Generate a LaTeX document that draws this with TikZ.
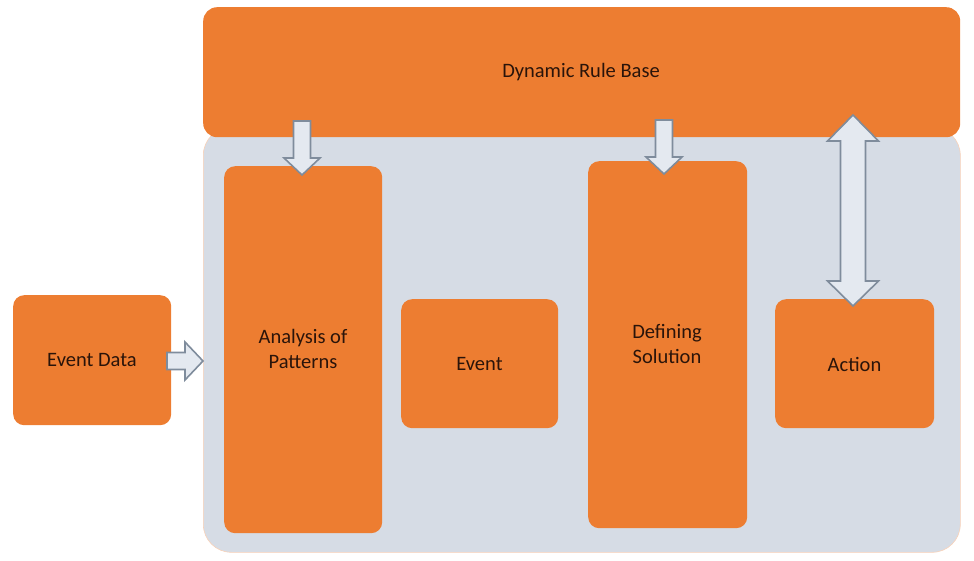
\documentclass[tikz,border=0pt]{standalone}
\usepackage{fontspec}
\setmainfont{Carlito}
\usetikzlibrary{calc}
\definecolor{orng}{HTML}{ED7D31}
\definecolor{panel}{HTML}{D6DCE5}
\definecolor{arrfill}{HTML}{E4E9F0}
\definecolor{arrline}{HTML}{7F8C9C}
\definecolor{txt}{HTML}{2A140A}
\tikzset{
  obox/.style={fill=orng, draw=none, rounded corners=11pt, inner sep=0pt, anchor=north west},
  lbl/.style={text=txt, font=\fontsize{20.5}{25}\selectfont, align=center, inner sep=0pt},
  blockarrow/.style={fill=arrfill, draw=arrline, line width=1.6pt, line join=miter}
}
\begin{document}
\begin{tikzpicture}[x=1pt,y=-1pt]
\useasboundingbox (0,0) rectangle (974,561);
% panel
\node[fill=panel, draw=orng!35, line width=0.6pt, rounded corners=28pt, minimum width=757pt, minimum height=425pt, inner sep=0pt, anchor=north west] (panel) at (203,127) {};
% top box
\node[obox, rounded corners=14pt, minimum width=757pt, minimum height=130pt] (rule) at (203,7) {};
\node[lbl] (rulelbl) at (581,72) {Dynamic Rule Base};
% inner boxes
\node[obox, minimum width=158pt, minimum height=367pt] (anal) at (224,166) {};
\node[lbl] (anallbl) at (303,349) {Analysis of\\Patterns};
\node[obox, minimum width=157pt, minimum height=129pt] (event) at (401,299) {};
\node[lbl] (eventlbl) at (479.5,364) {Event};
\node[obox, minimum width=159pt, minimum height=367pt] (defsol) at (588,161) {};
\node[lbl] (defsollbl) at (667,344) {Defining\\Solution};
\node[obox, minimum width=159pt, minimum height=129pt] (action) at (775,299) {};
\node[lbl] (actionlbl) at (854.5,364) {Action};
\node[obox, minimum width=158pt, minimum height=130pt] (evdata) at (13,295) {};
\node[lbl] (evdatalbl) at (92,360) {Event Data};
% arrows
\coordinate (a1) at (302,121);
\draw[blockarrow] ($(a1)+(-8.5,0)$) -- ($(a1)+(8.5,0)$) -- ($(a1)+(8.5,37)$) -- ($(a1)+(18,37)$) -- ($(a1)+(0,54)$) -- ($(a1)+(-18,37)$) -- ($(a1)+(-8.5,37)$) -- cycle;
\coordinate (a2) at (664,120);
\draw[blockarrow] ($(a2)+(-8.5,0)$) -- ($(a2)+(8.5,0)$) -- ($(a2)+(8.5,37)$) -- ($(a2)+(18,37)$) -- ($(a2)+(0,54)$) -- ($(a2)+(-18,37)$) -- ($(a2)+(-8.5,37)$) -- cycle;
\coordinate (a3) at (853,115);
\draw[blockarrow] (a3) -- ($(a3)+(25.5,26)$) -- ($(a3)+(12.5,26)$) -- ($(a3)+(12.5,166)$) -- ($(a3)+(25.5,166)$) -- ($(a3)+(0,191)$) -- ($(a3)+(-25.5,166)$) -- ($(a3)+(-12.5,166)$) -- ($(a3)+(-12.5,26)$) -- ($(a3)+(-25.5,26)$) -- cycle;
\coordinate (a4) at (167,361);
\draw[blockarrow] ($(a4)+(0,-8.5)$) -- ($(a4)+(18,-8.5)$) -- ($(a4)+(18,-19)$) -- ($(a4)+(36,0)$) -- ($(a4)+(18,19)$) -- ($(a4)+(18,8.5)$) -- ($(a4)+(0,8.5)$) -- cycle;
\end{tikzpicture}
\end{document}
